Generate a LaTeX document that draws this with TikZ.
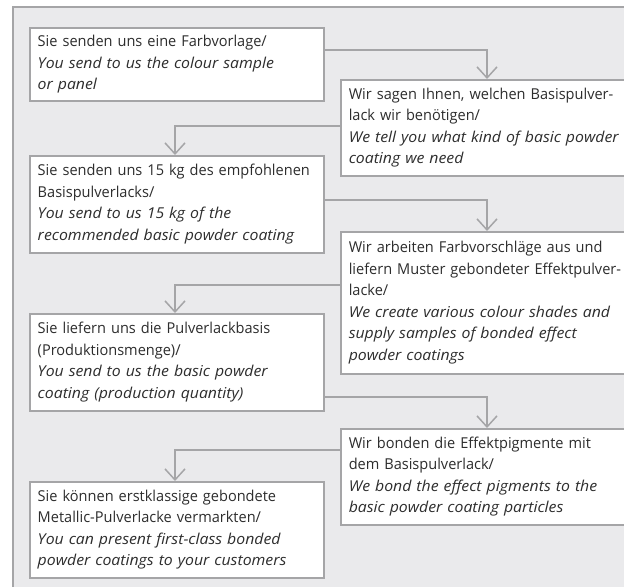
\documentclass[tikz,border=0pt]{standalone}
\usepackage{fontspec}
\setmainfont{Open Sans}[UprightFeatures={FakeStretch=0.97},ItalicFeatures={FakeStretch=1.055}]
\usetikzlibrary{arrows.meta}
\definecolor{bg}{RGB}{234,234,236}
\definecolor{ln}{RGB}{165,165,167}
\definecolor{tx}{RGB}{45,45,45}
\hyphenpenalty=10000 \exhyphenpenalty=10000 \hbadness=10000 \hfuzz=30pt\relax
\begin{document}
\begin{tikzpicture}[x=1pt,y=-1pt,
  box/.style={draw=ln, line width=1.5pt, fill=white, anchor=north west,
    text width=#1, align=left, inner xsep=8pt, inner ysep=0pt,
    font=\fontsize{15}{21.5}\selectfont, text=tx},
  conn/.style={draw=ln, line width=1.5pt, -{Straight Barb[width=20pt,length=11pt,line width=1.5pt]}}]
\useasboundingbox (0,0) rectangle (624,587);
\clip (0,0) rectangle (624,587);
\fill[white] (0,0) rectangle (624,587);
\fill[bg] (13,7) rectangle (624,587);
\draw[ln, line width=1.5pt] (13,587) -- (13,7) -- (624,7);

\node[box=278pt, minimum height=73pt] (b1) at (29,27)
  {Sie senden uns eine Farbvorlage/\\\itshape You send to us the colour sample\\or panel};
\node[box=300pt, minimum height=96pt] (b2) at (340,79)
  {Wir sagen Ihnen, welchen Basispulver-\\lack wir benötigen/\\\itshape We tell you what kind of basic powder\\coating we need};
\node[box=278pt, minimum height=97pt] (b3) at (29,155)
  {\mbox{Sie senden uns 15 kg des empfohlenen}\\Basispulverlacks/\\\itshape You send to us 15 kg of the\\recommended basic powder coating};
\node[box=300pt, minimum height=142pt] (b4) at (340,231)
  {Wir arbeiten Farbvorschläge aus und\\liefern Muster gebondeter Effektpulver-\\lacke/\\\itshape We create various colour shades and\\supply samples of bonded effect\\powder coatings};
\node[box=278pt, minimum height=97pt] (b5) at (29,313)
  {Sie liefern uns die Pulverlackbasis\\(Produktionsmenge)/\\\itshape You send to us the basic powder\\coating (production quantity)};
\node[box=300pt, minimum height=96pt] (b6) at (340,428)
  {Wir bonden die Effektpigmente mit\\dem Basispulverlack/\\\itshape We bond the effect pigments to the\\basic powder coating particles};
\node[box=278pt, minimum height=96pt] (b7) at (29,481)
  {Sie können erstklassige gebondete\\Metallic-Pulverlacke vermarkten/\\\itshape You can present first-class bonded\\powder coatings to your customers};

\draw[conn] ([yshift=-23pt]b1.north east) -| ([xshift=147pt]b2.north west);
\draw[conn] ([yshift=-47pt]b2.north west) -| ([xshift=146pt]b3.north west);
\draw[conn] ([yshift=-45pt]b3.north east) -| ([xshift=147pt]b4.north west);
\draw[conn] ([yshift=-54pt]b4.north west) -| ([xshift=146pt]b5.north west);
\draw[conn] ([yshift=-84pt]b5.north east) -| ([xshift=147pt]b6.north west);
\draw[conn] ([yshift=-22pt]b6.north west) -| ([xshift=146pt]b7.north west);
\end{tikzpicture}
\end{document}
